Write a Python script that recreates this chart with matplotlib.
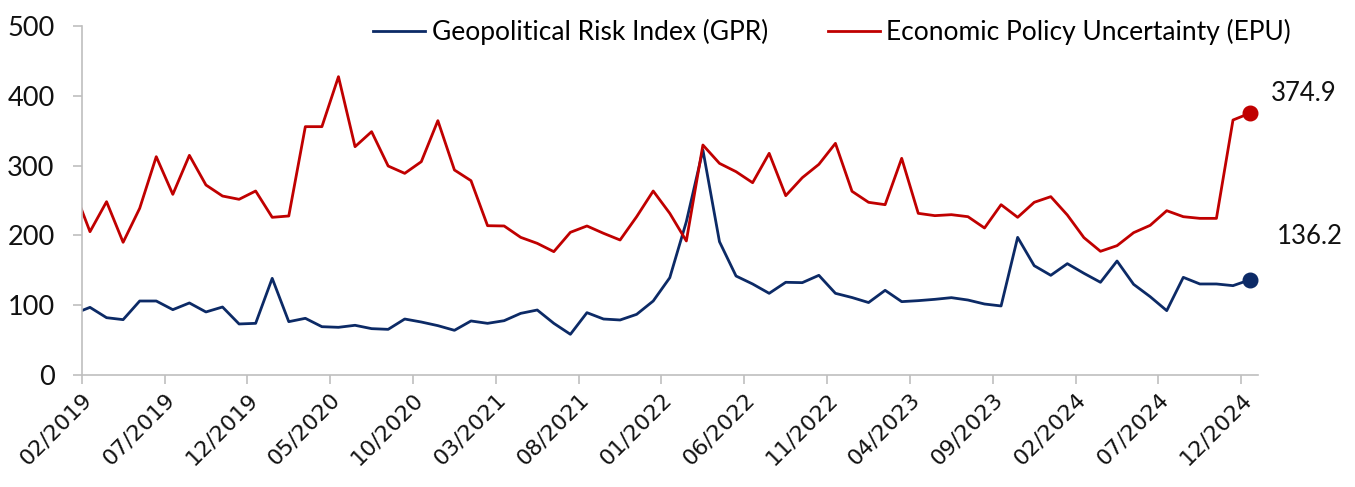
import numpy as np
import matplotlib
matplotlib.use("Agg")
import matplotlib.pyplot as plt
from matplotlib.transforms import ScaledTranslation

# Monthly index values, Jan 2019 .. Dec 2024 (points plotted mid-month)
gpr = [87.5, 96.9, 82.1, 79.3, 106.0, 106.0, 93.6, 103.2, 90.3, 97.4, 73.1, 74.0,
       138.5, 76.4, 81.2, 69.2, 68.3, 71.2, 66.4, 65.4, 80.2, 75.9, 70.7, 64.0,
       77.4, 74.0, 77.8, 88.3, 93.1, 74.0, 58.3, 89.3, 80.2, 78.8, 86.9, 106.0,
       139.4, 219.7, 322.3, 191.0, 141.8, 130.4, 117.0, 132.8, 132.3, 142.8, 117.0, 111.0,
       103.8, 121.3, 105.1, 106.5, 108.4, 110.8, 107.4, 101.7, 98.9, 197.2, 156.6, 142.8,
       159.5, 145.7, 132.8, 163.3, 129.9, 112.2, 92.2, 139.9, 130.4, 130.4, 128.0, 136.2]
epu = [267.5, 205.3, 248.3, 190.1, 238.8, 312.8, 258.8, 314.7, 272.2, 256.4, 251.7, 263.6,
       225.9, 227.8, 355.8, 355.8, 427.4, 327.1, 348.6, 299.4, 288.9, 305.6, 364.4, 293.7,
       278.4, 213.9, 213.5, 197.2, 188.6, 176.7, 204.4, 213.5, 203.0, 193.4, 226.8, 263.6,
       231.6, 192.0, 329.5, 303.2, 291.3, 275.5, 317.6, 256.9, 282.7, 301.8, 331.9, 263.2,
       247.4, 244.0, 310.4, 231.6, 228.3, 229.7, 226.8, 210.6, 244.0, 225.9, 247.4, 255.5,
       229.2, 196.8, 177.2, 185.3, 203.9, 214.4, 235.4, 226.8, 224.4, 224.4, 365.3, 374.9]
tick_labels = ["02/2019", "07/2019", "12/2019", "05/2020", "10/2020", "03/2021",
               "08/2021", "01/2022", "06/2022", "11/2022", "04/2023", "09/2023",
               "02/2024", "07/2024", "12/2024"]

NAVY = "#0C2A66"
RED = "#C00000"
GREY = "#BFBFBF"
TXT = "#111111"

# x measured in months from the start of Feb 2019; each value sits mid-month
x = np.arange(len(gpr)) - 1 + 0.5

fig = plt.figure(figsize=(13.55, 4.87), dpi=100)
ax = fig.add_axes([0.0603, 0.230, 0.868, 0.7166])

ax.plot(x, gpr, color=NAVY, lw=2.0, label="Geopolitical Risk Index (GPR)")
ax.plot(x, epu, color=RED, lw=2.0, label="Economic Policy Uncertainty (EPU)")
ax.plot(x[-1], gpr[-1], "o", color=NAVY, ms=10.5)
ax.plot(x[-1], epu[-1], "o", color=RED, ms=10.5)

ax.annotate(f"{epu[-1]:.1f}", (x[-1], epu[-1]), xytext=(15, 14), textcoords="offset points",
            ha="left", va="center", fontsize=18.5, family="Lato", color=TXT)
ax.annotate(f"{gpr[-1]:.1f}", (x[-1], gpr[-1]), xytext=(19.5, 31), textcoords="offset points",
            ha="left", va="center", fontsize=18.5, family="Lato", color=TXT)

ax.set_xlim(0, 71)
ax.set_ylim(0, 500)
ax.set_yticks(range(0, 501, 100))
ax.set_xticks(np.arange(0, 71, 5))
ax.set_xticklabels(tick_labels, rotation=45, ha="right", va="top",
                   rotation_mode="anchor", fontsize=16, family="DejaVu Sans")
off = ScaledTranslation(12 / 72, -18 / 72, fig.dpi_scale_trans)
for lbl in ax.get_xticklabels():
    lbl.set_transform(lbl.get_transform() + off)

for lbl in ax.get_yticklabels():
    lbl.set_fontsize(19.5)
    lbl.set_family("Lato")

for side in ["top", "right"]:
    ax.spines[side].set_visible(False)
for side in ["left", "bottom"]:
    ax.spines[side].set_color(GREY)
    ax.spines[side].set_linewidth(1.2)
ax.tick_params(axis="both", direction="out", color=GREY, width=1.2, length=6.5,
               labelcolor=TXT)
ax.tick_params(axis="y", pad=13)

ax.legend(loc="center", bbox_to_anchor=(0.638, 0.983), ncol=2, frameon=False,
          prop={"family": "Lato", "size": 19}, handlelength=1.97, handletextpad=0.25,
          columnspacing=2.25)

fig.savefig("out.png", dpi=100)
